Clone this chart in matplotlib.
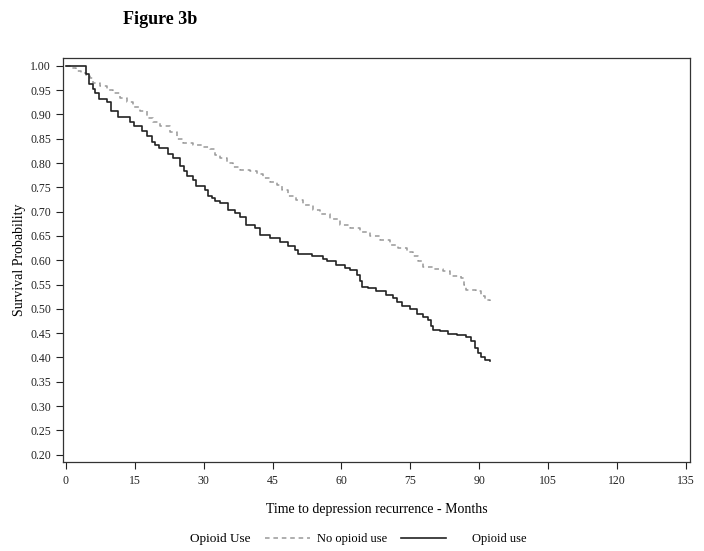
import matplotlib
matplotlib.use("Agg")
import matplotlib.pyplot as plt
import numpy as np

# Kaplan-Meier style curves (months, survival)
t_opioid = [0, 4.3, 5.1, 5.9, 6.3, 7.2, 8.9, 9.9, 11.4, 13.9, 14.8, 16.5, 17.7, 18.7, 19.3,
            20.2, 22.3, 23.4, 24.8, 25.6, 26.3, 27.7, 28.4, 30.3, 31.0, 31.7, 32.4, 33.5,
            35.3, 36.8, 37.9, 39.3, 41.1, 42.2, 44.4, 46.6, 48.4, 49.9, 50.6, 53.5, 56.0,
            56.8, 58.9, 60.7, 61.8, 63.3, 64.0, 64.4, 65.8, 67.6, 69.8, 71.3, 72.2, 73.1,
            74.9, 76.4, 77.8, 78.9, 79.4, 80.0, 81.4, 83.2, 85.1, 87.2, 88.3, 89.0, 89.8,
            90.5, 91.2, 92.3]
s_opioid = [1.00, 0.983, 0.962, 0.952, 0.944, 0.932, 0.925, 0.906, 0.895, 0.885, 0.877,
            0.866, 0.856, 0.844, 0.838, 0.831, 0.818, 0.810, 0.793, 0.783, 0.774, 0.765,
            0.752, 0.745, 0.733, 0.728, 0.721, 0.718, 0.704, 0.697, 0.690, 0.673, 0.666,
            0.652, 0.645, 0.638, 0.630, 0.622, 0.613, 0.608, 0.603, 0.598, 0.591, 0.584,
            0.580, 0.570, 0.558, 0.546, 0.543, 0.536, 0.529, 0.522, 0.515, 0.506, 0.500,
            0.490, 0.483, 0.478, 0.464, 0.456, 0.454, 0.449, 0.447, 0.443, 0.433, 0.419,
            0.409, 0.401, 0.395, 0.392]

t_none = [0, 1.0, 2.1, 3.2, 4.3, 5.2, 5.9, 7.4, 8.9, 10.3, 11.8, 13.2, 14.7, 16.1, 17.6,
          19.0, 20.5, 22.6, 24.1, 25.5, 27.7, 29.9, 31.4, 32.4, 33.5, 35.0, 36.4, 37.9,
          40.1, 41.5, 43.0, 44.4, 45.9, 47.0, 48.4, 50.2, 51.7, 53.8, 55.3, 57.5, 59.7,
          61.8, 64.0, 66.2, 68.4, 70.5, 72.3, 74.2, 75.6, 76.7, 77.8, 80.0, 82.1, 83.6,
          86.1, 86.7, 87.2, 89.4, 90.5, 91.2, 92.3]
s_none = [1.00, 0.995, 0.990, 0.986, 0.982, 0.975, 0.964, 0.959, 0.951, 0.944, 0.934,
          0.925, 0.916, 0.906, 0.892, 0.885, 0.877, 0.863, 0.849, 0.841, 0.838, 0.834,
          0.829, 0.817, 0.810, 0.801, 0.792, 0.786, 0.783, 0.778, 0.769, 0.762, 0.755,
          0.745, 0.733, 0.724, 0.714, 0.704, 0.696, 0.685, 0.673, 0.666, 0.659, 0.650,
          0.642, 0.632, 0.625, 0.618, 0.608, 0.598, 0.587, 0.582, 0.577, 0.567, 0.563,
          0.549, 0.539, 0.536, 0.526, 0.519, 0.516]

x_ticks = list(range(0, 136, 15))
y_ticks = np.arange(0.20, 1.001, 0.05)

plt.rcParams['font.family'] = ['Liberation Serif', 'DejaVu Serif']

fig = plt.figure(figsize=(7.04, 5.51), dpi=100)
ax = fig.add_axes([0.0895, 0.1615, 0.8905, 0.7332])

l_none, = ax.step(t_none, s_none, where='post', color='#999999',
                  linestyle=(0, (3.0, 2.5)), linewidth=1.1, label='No opioid use')
l_op, = ax.step(t_opioid, s_opioid, where='post', color='#222222', linewidth=1.2,
                label='Opioid use')

ax.set_xlim(-0.65, 135.9)
ax.set_ylim(0.185, 1.016)
ax.set_xticks(x_ticks)
ax.set_yticks(y_ticks)
ax.set_yticklabels(['%.2f' % v for v in y_ticks])
ax.tick_params(direction='out', length=5, width=0.8, labelsize=8.5, colors='#222222')
ax.tick_params(axis='x', pad=4)
for sp in ax.spines.values():
    sp.set_linewidth(0.9)
    sp.set_color('#333333')

ax.set_ylabel('Survival Probability', fontsize=10, labelpad=3)
ax.set_xlabel('Time to depression recurrence - Months', fontsize=10, labelpad=12)

fig.text(0.228, 0.965, 'Figure 3b', fontsize=13, fontweight='bold', ha='center', va='center')

# legend row at the bottom
fig.text(0.27, 0.022, 'Opioid Use', fontsize=9.5, ha='left', va='center')
leg1 = fig.legend(handles=[l_none], loc='center left', bbox_to_anchor=(0.376, 0.022),
                  frameon=False, fontsize=9, handlelength=3.6, handletextpad=0.6,
                  borderpad=0, borderaxespad=0)
leg2 = fig.legend(handles=[l_op], loc='center left', bbox_to_anchor=(0.569, 0.022),
                  frameon=False, fontsize=9, handlelength=3.6, handletextpad=2.1,
                  borderpad=0, borderaxespad=0)

fig.savefig('out.png', dpi=100)
